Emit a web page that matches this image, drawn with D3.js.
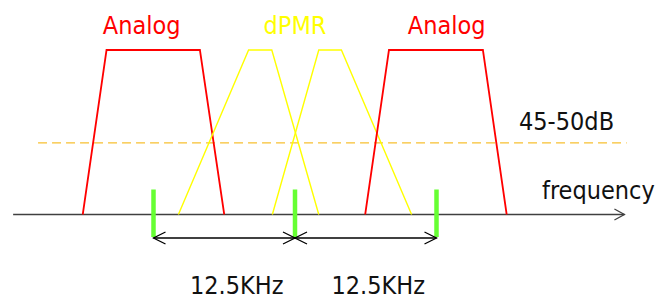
<!DOCTYPE html>
<html>
<head>
<meta charset="utf-8">
<script src="https://cdn.jsdelivr.net/npm/d3@7"></script>
<style>
  body { margin: 0; background: #fff; }
  svg text { font-family: "DejaVu Sans Condensed", "DejaVu Sans", sans-serif; font-stretch: condensed; font-size: 25px; }
</style>
</head>
<body>
<svg id="chart" width="660" height="296"></svg>
<script>
(function () {

  'use strict';

  // channel grid, kHz
  var channels = [0, 12.5, 25];
  var spacingLabels = ['12.5KHz', '12.5KHz'];

  // spectrum masks: [bottom-left, top-left, top-right, bottom-right] in kHz
  var signalNames = ['Analog', 'dPMR', 'dPMR', 'Analog'];
  var signalEdges = [
    [-6.25, -4.15, 4.1, 6.25],
    [2.2, 8.4, 10.45, 14.6],
    [10.5, 14.6, 16.6, 22.8],
    [18.7, 20.8, 29.1, 31.2]
  ];
  var signalLevel = [0, 100, 100, 0]; // relative level at each edge point

  var rejectionLevel = 43.5; // relative level of the 45-50dB line
  var rejectionLabel = '45-50dB';
  var axisLabel = 'frequency';
  var freqRange = [-12.4, 41.6]; // kHz span of the frequency axis

  var COLORS = { Analog: '#ff0000', dPMR: '#ffff00' };

  var svg = d3.select('#chart');

  var x = d3.scaleLinear().domain([0, 25]).range([153.5, 436.5]);
  var y = d3.scaleLinear().domain([0, 100]).range([214.5, 50]);

  // ----------- rejection line --------------
  svg.append('line')
    .attr('x1', x(-10.2)).attr('x2', x(41.8))
    .attr('y1', y(rejectionLevel)).attr('y2', y(rejectionLevel))
    .attr('stroke', '#f8c030')
    .attr('stroke-width', 1.3)
    .attr('stroke-dasharray', '9,5');

  // ----------- frequency axis --------------
  var axisY = y(0);
  svg.append('line')
    .attr('x1', x(freqRange[0])).attr('x2', x(freqRange[1]))
    .attr('y1', axisY).attr('y2', axisY)
    .attr('stroke', '#404040')
    .attr('stroke-width', 1.5);

  svg.append('path')
    .attr('d', 'M' + (x(freqRange[1]) - 10) + ',' + (axisY - 5.5) +
      'L' + x(freqRange[1]) + ',' + axisY +
      'L' + (x(freqRange[1]) - 10) + ',' + (axisY + 5.5))
    .attr('fill', 'none')
    .attr('stroke', '#404040')
    .attr('stroke-width', 1.3);

  // ----------- signal masks --------------
  var line = d3.line()
    .x(function (d) { return x(d[0]); })
    .y(function (d) { return y(d[1]); });

  svg.selectAll('.mask')
    .data(signalEdges)
    .enter()
    .append('path')
    .attr('class', 'mask')
    .attr('d', function (d) {
      return line(d.map(function (f, i) { return [f, signalLevel[i]]; }));
    })
    .attr('fill', 'none')
    .attr('stroke', function (d, i) { return COLORS[signalNames[i]]; })
    .attr('stroke-width', function (d, i) { return signalNames[i] === 'Analog' ? 1.8 : 1.4; })
    .attr('stroke-linejoin', 'miter');

  // labels: Analog over each analog mask, one dPMR over both dPMR masks
  var labels = [
    { text: signalNames[0], f: -1.05, yb: 34 },
    { text: signalNames[1], f: 12.5, yb: 33.5 },
    { text: signalNames[3], f: 25.9, yb: 34 }
  ];
  svg.selectAll('.sig-label')
    .data(labels)
    .enter()
    .append('text')
    .attr('class', 'sig-label')
    .attr('x', function (d) { return x(d.f); })
    .attr('y', function (d) { return d.yb; })
    .attr('text-anchor', 'middle')
    .attr('fill', function (d) { return COLORS[d.text]; })
    .text(function (d) { return d.text; });

  svg.append('text')
    .attr('x', 519)
    .attr('y', 130)
    .attr('fill', '#111')
    .text(rejectionLabel);

  svg.append('text')
    .attr('x', 542)
    .attr('y', 199)
    .attr('fill', '#111')
    .text(axisLabel);

  // ----------- channel markers --------------
  svg.selectAll('.marker')
    .data(channels)
    .enter()
    .append('line')
    .attr('class', 'marker')
    .attr('x1', function (d) { return x(d); })
    .attr('x2', function (d) { return x(d); })
    .attr('y1', y(15.2))
    .attr('y2', axisY + 22.5)
    .attr('stroke', '#66ff33')
    .attr('stroke-width', 4.5);

  // ----------- spacing arrows --------------
  var arrowY = axisY + 23.5;
  var spans = d3.pairs(channels);

  function chevron(px, dir) {
    return 'M' + (px + dir * 12) + ',' + (arrowY - 6) +
      'L' + px + ',' + arrowY +
      'L' + (px + dir * 12) + ',' + (arrowY + 6);
  }

  var arrows = svg.selectAll('.span')
    .data(spans)
    .enter()
    .append('g')
    .attr('class', 'span');

  arrows.append('line')
    .attr('x1', function (d) { return x(d[0]); })
    .attr('x2', function (d) { return x(d[1]); })
    .attr('y1', arrowY).attr('y2', arrowY)
    .attr('stroke', '#000')
    .attr('stroke-width', 1.3);

  arrows.append('path')
    .attr('d', function (d) { return chevron(x(d[0]), 1) + chevron(x(d[1]), -1); })
    .attr('fill', 'none')
    .attr('stroke', '#000')
    .attr('stroke-width', 1.3);

  arrows.append('text')
    .attr('x', function (d) { return x((d[0] + d[1]) / 2) + 12.5; })
    .attr('y', 293.5)
    .attr('text-anchor', 'middle')
    .attr('fill', '#111')
    .text(function (d, i) { return spacingLabels[i]; });

})();
</script>
</body>
</html>
